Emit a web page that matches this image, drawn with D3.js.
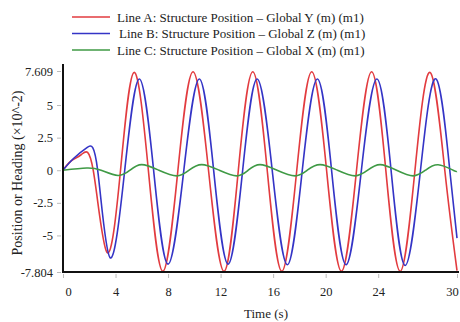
<!DOCTYPE html>
<html>
<head>
<meta charset="utf-8">
<script src="https://cdn.jsdelivr.net/npm/d3@7"></script>
<style>
    body { margin: 0; background: #fff; }
    svg { display: block; font-family: "Liberation Serif", "DejaVu Serif", serif; }
</style>
</head>
<body>
<svg id="chart" width="460" height="322"></svg>
<script>
// values are in units of 1e-2 m
const redTime = [0, 0.6, 1.42, 2.3, 3.35, 4.38, 5.41, 6.5, 7.6, 8.75, 9.9, 11.08, 12.26, 13.35, 14.45, 15.55, 16.66, 17.8, 18.94, 20.07, 21.2, 22.35, 23.5, 24.58, 25.67, 26.8, 27.95, 29.07, 30];
const redValue = [0, 0.7, 1.22, 0, -6.3, 0, 7.5, 0, -7.75, 0, 7.55, 0, -7.75, 0, 7.55, 0, -7.75, 0, 7.55, 0, -7.75, 0, 7.55, 0, -7.75, 0, 7.5, 0, -7.7];

const blueTime = [0, 0.8, 1.85, 2.64, 3.58, 4.7, 5.81, 6.9, 8.0, 9.2, 10.38, 11.47, 12.57, 13.68, 14.78, 15.93, 17.08, 18.22, 19.37, 20.45, 21.55, 22.72, 23.9, 24.98, 26.05, 27.22, 28.4, 29.45, 30];
const blueValue = [0, 0.9, 1.75, 0, -6.7, 0, 7.0, 0, -7.2, 0, 7.0, 0, -7.2, 0, 7.0, 0, -7.25, 0, 7.0, 0, -7.25, 0, 7.0, 0, -7.3, 0, 7.0, 0, -5.2];

const greenTime = [0, 1.8, 2.9, 4.19, 5.1, 5.99, 7.3, 8.66, 9.6, 10.56, 11.9, 13.23, 14.1, 15.0, 16.3, 17.67, 18.6, 19.57, 20.9, 22.24, 23.2, 24.14, 25.4, 26.66, 27.6, 28.56, 29.7, 30];
const greenValue = [0, 0.17, 0, -0.4, 0, 0.43, 0, -0.43, 0, 0.43, 0, -0.43, 0, 0.43, 0, -0.43, 0, 0.43, 0, -0.43, 0, 0.43, 0, -0.43, 0, 0.42, 0, -0.1];

const seriesNames = [
    "Line A: Structure Position \u2013 Global Y (m) (m1)",
    "Line B: Structure Position \u2013 Global Z (m) (m1)",
    "Line C: Structure Position \u2013 Global X (m) (m1)"
];
const seriesColours = ["#e23b3f", "#3434c6", "#3f9a45"];

const xTicks = [0, 4, 8, 12, 16, 20, 24, 30];
const yTicks = [7.609, 5, 2.5, 0, -2.5, -5, -7.804];
const yTickLabels = ["7.609", "5", "2.5", "0", "-2.5", "-5", "-7.804"];

const series = [
    { time: redTime, value: redValue },
    { time: blueTime, value: blueValue },
    { time: greenTime, value: greenValue }
];

const svg = d3.select("#chart");

const margin = { top: 71, left: 63 },
    width = 394,
    height = 201;

const xScale = d3.scaleLinear()
    .domain([0, 30])
    .range([margin.left, margin.left + width]);

const yScale = d3.scaleLinear()
    .domain([-7.804, 7.609])
    .range([margin.top + height, margin.top]);

// tick marks and labels
const yAxis = svg.append("g")
    .attr("transform", `translate(${margin.left - 2},0)`)
    .call(d3.axisLeft(yScale)
        .tickValues(yTicks)
        .tickFormat((d, i) => yTickLabels[i])
        .tickSize(4)
        .tickPadding(4));

const xAxis = svg.append("g")
    .attr("transform", `translate(0,${margin.top + height + 2})`)
    .call(d3.axisBottom(xScale)
        .tickValues(xTicks)
        .tickSize(4)
        .tickPadding(9));

[xAxis, yAxis].forEach(ax => {
    ax.select(".domain").remove();
    ax.attr("font-family", null);
    ax.selectAll(".tick line").attr("stroke", "#bbb");
    ax.selectAll(".tick text")
        .attr("fill", "#222")
        .style("font-size", "12.5px")
        .style("font-family", "'Liberation Serif', serif");
});

// first and last time labels sit a little inward in the original
xAxis.selectAll(".tick text")
    .attr("dx", d => d === 0 ? 5 : d === 30 ? -5 : 0);

// series lines
const line = d3.line()
    .x(d => xScale(d[0]))
    .y(d => yScale(d[1]))
    .curve(d3.curveNatural);

series.forEach((s, i) => {
    svg.append("path")
        .datum(s.time.map((t, j) => [t, s.value[j]]))
        .attr("d", line)
        .attr("fill", "none")
        .attr("stroke", seriesColours[i])
        .attr("stroke-width", 1.6);
});

// axis lines
svg.append("line")
    .attr("x1", margin.left).attr("x2", margin.left)
    .attr("y1", margin.top - 7).attr("y2", margin.top + height)
    .attr("stroke", "#111").attr("stroke-width", 2);

svg.append("line")
    .attr("x1", margin.left - 1).attr("x2", margin.left + width + 2)
    .attr("y1", margin.top + height).attr("y2", margin.top + height)
    .attr("stroke", "#111").attr("stroke-width", 2);

// axis titles
svg.append("text")
    .attr("x", 266)
    .attr("y", 318)
    .attr("text-anchor", "middle")
    .style("font-size", "13px")
    .attr("fill", "#222")
    .text("Time (s)");

svg.append("text")
    .attr("transform", "translate(22,173) rotate(-90)")
    .attr("text-anchor", "middle")
    .style("font-size", "14px")
    .attr("fill", "#222")
    .text("Position or Heading (\u00d710^-2)");

// legend
const legend = svg.append("g");
seriesNames.forEach((name, i) => {
    const y = 17 + i * 16.5;
    legend.append("line")
        .attr("x1", 72).attr("x2", 110)
        .attr("y1", y).attr("y2", y)
        .attr("stroke", seriesColours[i])
        .attr("stroke-width", 1.6);
    legend.append("text")
        .attr("x", i === 1 ? 119 : 117)
        .attr("y", y + 4.5)
        .style("font-size", "13px")
        .attr("fill", "#222")
        .text(name);
});
</script>
</body>
</html>
